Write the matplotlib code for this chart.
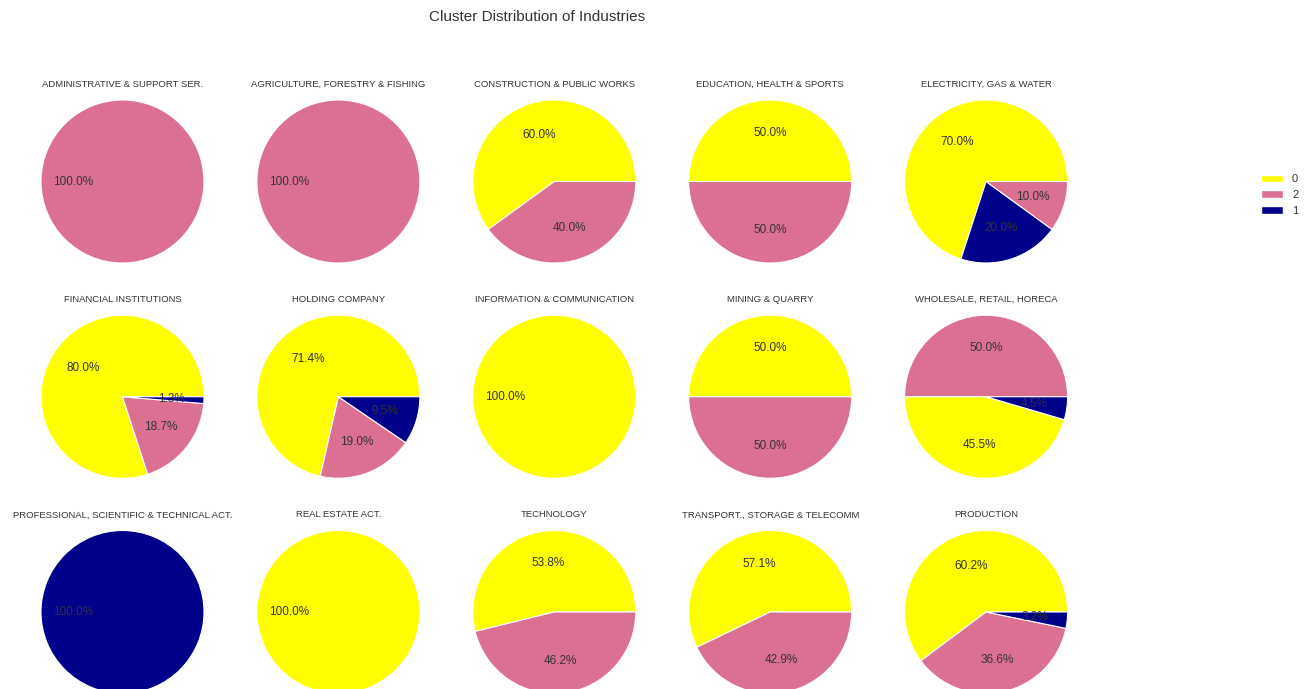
import matplotlib
matplotlib.use("Agg")
import matplotlib.pyplot as plt
from matplotlib.patches import Patch

plt.rcParams['font.family'] = ['Liberation Sans', 'DejaVu Sans']

industries = [
    "ADMINISTRATIVE & SUPPORT SER.", "AGRICULTURE, FORESTRY & FISHING",
    "CONSTRUCTION & PUBLIC WORKS", "EDUCATION, HEALTH & SPORTS",
    "ELECTRICITY, GAS & WATER", "FINANCIAL INSTITUTIONS", "HOLDING COMPANY",
    "INFORMATION & COMMUNICATION", "MINING & QUARRY",
    "WHOLESALE, RETAIL, HORECA",
    "PROFESSIONAL, SCIENTIFIC & TECHNICAL ACT.", "REAL ESTATE ACT.",
    "TECHNOLOGY", "TRANSPORT., STORAGE & TELECOMM", "PRODUCTION",
]
# percentage share of each cluster per industry
pct_cluster0 = [0, 0, 60.0, 50.0, 70.0, 80.0, 71.43, 100.0, 50.0, 45.46,
                0, 100.0, 53.84, 57.14, 60.22]
pct_cluster2 = [100.0, 100.0, 40.0, 50.0, 10.0, 18.67, 19.05, 0, 50.0, 50.0,
                0, 0, 46.16, 42.86, 36.56]
pct_cluster1 = [0, 0, 0, 0, 20.0, 1.33, 9.52, 0, 0, 4.54,
                100.0, 0, 0, 0, 3.22]

cluster_labels = ["0", "2", "1"]
cluster_colors = {"0": "#FFFF00", "2": "#DB7093", "1": "#00008B"}

W, H = 1304, 689
fig = plt.figure(figsize=(W / 100, H / 100), dpi=100)
fig.patch.set_facecolor("white")

text_color = "#333333"
r_px = 81.5
S = 2.5 * r_px

for i, name in enumerate(industries):
    row, col = divmod(i, 5)
    cx = 122.5 + 215.9 * col
    cy = 181.5 + 215.25 * row
    ax = fig.add_axes([(cx - S / 2) / W, (H - cy - S / 2) / H, S / W, S / H])
    shares = {"0": pct_cluster0[i], "2": pct_cluster2[i], "1": pct_cluster1[i]}
    order = sorted([k for k in cluster_labels if shares[k] > 0],
                   key=lambda k: -shares[k])
    vals = [shares[k] for k in order]
    cols = [cluster_colors[k] for k in order]
    ax.pie(vals, colors=cols, autopct='%1.1f%%', startangle=0,
           wedgeprops=dict(edgecolor='white', linewidth=0.8),
           textprops=dict(fontsize=8.5, color=text_color))
    ax.set_xlim(-1.25, 1.25)
    ax.set_ylim(-1.25, 1.25)
    ax.set_aspect('equal')
    ax.text(0, 1.16, name, ha='center', va='baseline', fontsize=6.8,
            color=text_color)

fig.text(537 / W, 1 - 17 / H, "Cluster Distribution of Industries",
         ha='center', va='center', fontsize=11, color=text_color)

handles = [Patch(facecolor=cluster_colors[k], edgecolor='white') for k in cluster_labels]
fig.legend(handles, cluster_labels, loc='center left',
           bbox_to_anchor=(1251 / W, 1 - 195 / H), frameon=False, fontsize=8,
           labelcolor=text_color)

fig.savefig("out.png", dpi=100)
